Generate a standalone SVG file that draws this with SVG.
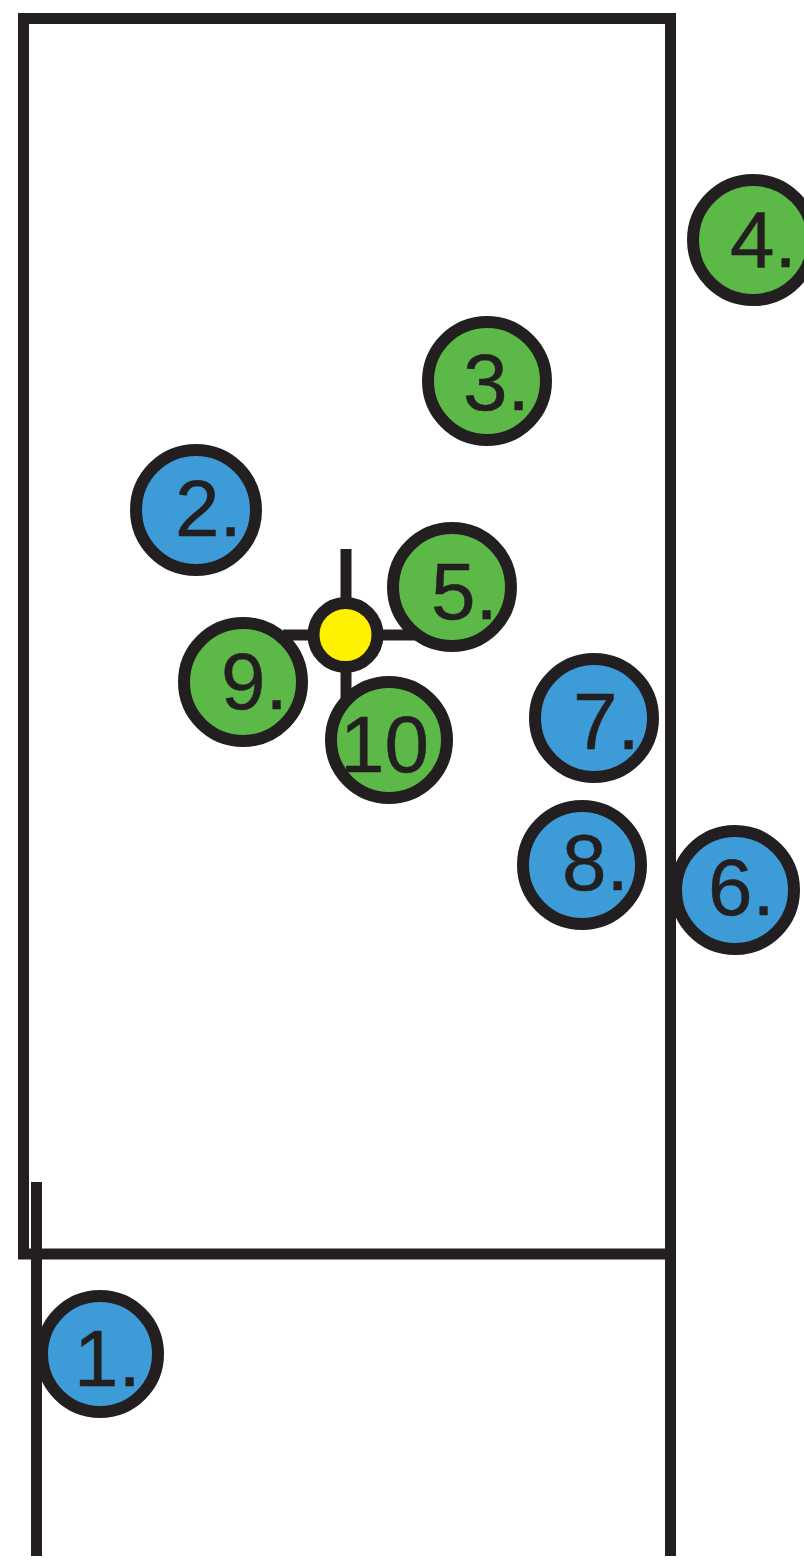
<svg xmlns="http://www.w3.org/2000/svg" width="804" height="1561" viewBox="0 0 804 1561">
<style>
.ln{stroke:#231f20;stroke-width:11;fill:none}
.c{stroke:#231f20;stroke-width:12}
.b{fill:#3d9bd7}
.g{fill:#5cb947}
.t{font-family:"Liberation Sans",Arial,sans-serif;font-size:80px;fill:#231f20;stroke:#231f20;stroke-width:0.5}
</style>
<rect width="804" height="1561" fill="#ffffff"/>
<g id="field">
<path class="ln" d="M23.5,1259 V18.5 H670.5 V1556"/>
<path class="ln" d="M18,1254 H676" stroke-width="10"/>
<path class="ln" d="M36.5,1182 V1556" stroke-width="10"/>
</g>
<g id="connectors">
<line class="ln" x1="346" y1="549" x2="346" y2="700" stroke-width="10"/>
<line class="ln" x1="283" y1="635" x2="420" y2="635" stroke-width="10"/>
</g>
<g id="n1"><circle class="c b" cx="100" cy="1354" r="58"/><text class="t" x="74" y="1386">1.</text></g>
<g id="n2"><circle class="c b" cx="196" cy="510" r="60"/><text class="t" x="175" y="536">2.</text></g>
<g id="n3"><circle class="c g" cx="487" cy="381" r="59"/><text class="t" x="463" y="410">3.</text></g>
<g id="n4"><circle class="c g" cx="753" cy="240" r="60"/><text class="t" x="730" y="267">4.</text></g>
<g id="n5"><circle class="c g" cx="452" cy="587" r="59"/><text class="t" x="431" y="619">5.</text></g>
<g id="n6"><circle class="c b" cx="735" cy="890" r="59"/><text class="t" x="708" y="915">6.</text></g>
<g id="n7"><circle class="c b" cx="594" cy="718" r="59"/><text class="t" x="573" y="749">7.</text></g>
<g id="n8"><circle class="c b" cx="582" cy="865" r="59"/><text class="t" x="562" y="890">8.</text></g>
<g id="n9"><circle class="c g" cx="243" cy="682" r="59"/><text class="t" x="221" y="709">9.</text></g>
<g id="n10"><circle class="c g" cx="389" cy="740" r="58"/><text class="t" x="340" y="772">10</text></g>
<g id="ball"><circle class="c" cx="345.5" cy="635" r="32" fill="#fff200" stroke-width="10"/></g>
</svg>
